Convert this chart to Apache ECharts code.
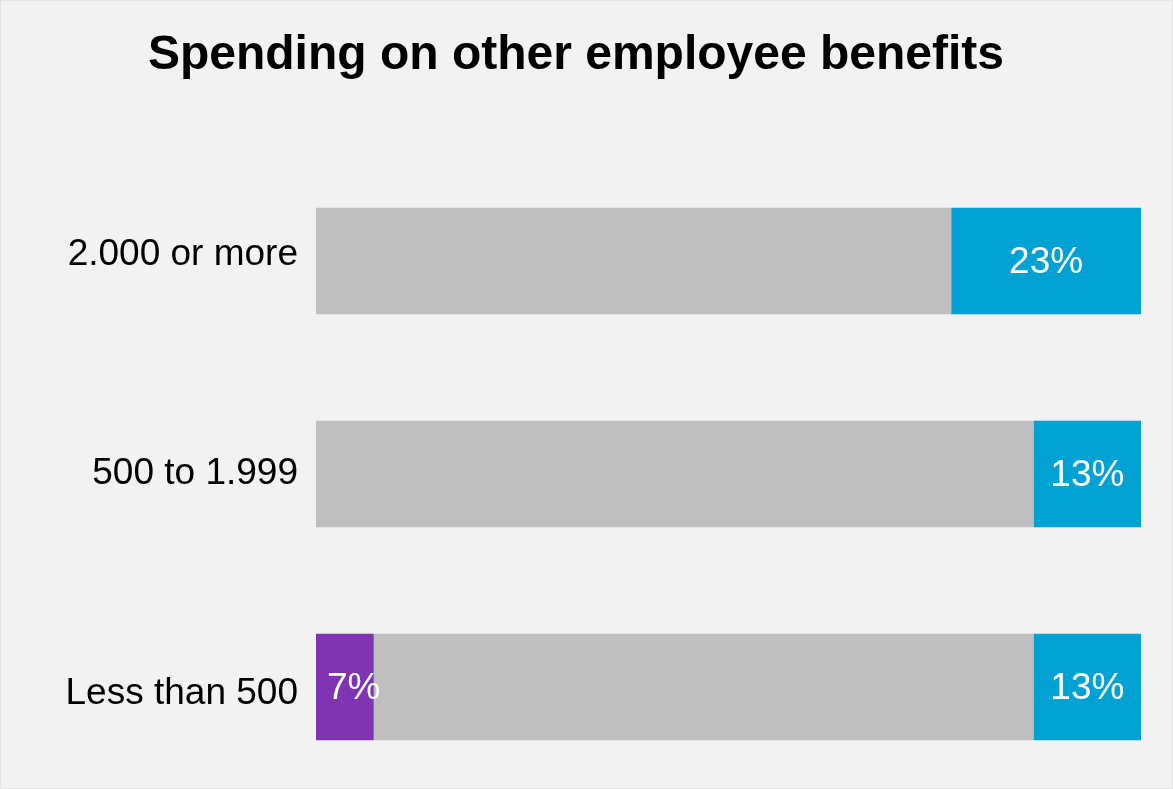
<!DOCTYPE html>
<html>
<head>
<meta charset="utf-8">
<script src="https://cdn.jsdelivr.net/npm/echarts@6/dist/echarts.min.js"></script>
<style>
  html, body { margin: 0; padding: 0; background: #f2f2f2; overflow: hidden; }
  #chart { position: absolute; left: 0; top: 0; width: 1173px; height: 830px; }
  #frame { position: absolute; left: 0; top: 0; width: 1173px; height: 789px;
           box-sizing: border-box; border: 1px solid #e4e4e4; pointer-events: none; }
</style>
</head>
<body>
<div id="chart"></div>
<div id="frame"></div>
<script>
// Company size groups, top to bottom
const categories = ['2.000 or more', '500 to 1.999', 'Less than 500'];
// Share of respondents (%) per spending direction
const decreaseValues = [0, 0, 7];
const sameValues = [77, 87, 80];
const increaseValues = [23, 13, 13];

const FONT = '"Liberation Sans", Arial, sans-serif';

const chart = echarts.init(document.getElementById('chart'), null, { renderer: 'canvas' });

const labelBase = {
  color: '#ffffff',
  fontFamily: FONT,
  fontSize: 37,
  offset: [0, 2],
  formatter: p => (p.value > 0 ? p.value + '%' : '')
};

// small vertical nudges for the category captions
const captionRich = {
  r0: { fontFamily: FONT, fontSize: 37, color: '#000000', padding: [0, 0, 12, 0] },
  r1: { fontFamily: FONT, fontSize: 37, color: '#000000', padding: [0, 0, 0, 0] },
  r2: { fontFamily: FONT, fontSize: 37, color: '#000000', padding: [13, 0, 0, 0] }
};

chart.setOption({
  backgroundColor: '#f2f2f2',
  animation: false,
  title: {
    text: 'Spending on other employee benefits',
    left: 571,
    textAlign: 'center',
    top: 27,
    textStyle: { fontFamily: FONT, fontSize: 48, fontWeight: 'bold', color: '#000000' }
  },
  grid: { left: 316, right: 32, top: 154.5, height: 639, containLabel: false },
  xAxis: {
    type: 'value',
    min: 0,
    max: 100,
    show: false
  },
  yAxis: {
    type: 'category',
    data: categories,
    inverse: true,
    axisLine: { show: false },
    axisTick: { show: false },
    axisLabel: {
      fontFamily: FONT, fontSize: 37, color: '#000000', margin: 18,
      formatter: (value, idx) => '{r' + idx + '|' + value + '}',
      rich: captionRich
    }
  },
  series: [
    {
      name: 'Decrease',
      type: 'bar',
      stack: 'total',
      barWidth: 106.5,
      data: decreaseValues,
      itemStyle: { color: '#7f35b2' },
      label: Object.assign({ show: true, position: 'insideLeft', distance: 11 }, labelBase),
      z: 3
    },
    {
      name: 'Same',
      type: 'bar',
      stack: 'total',
      barWidth: 106.5,
      data: sameValues,
      itemStyle: { color: '#bfbfbf' },
      label: { show: false },
      z: 2
    },
    {
      name: 'Increase',
      type: 'bar',
      stack: 'total',
      barWidth: 106.5,
      data: increaseValues,
      itemStyle: { color: '#00a2d3' },
      label: Object.assign({ show: true, position: 'inside' }, labelBase),
      z: 2
    }
  ]
});
</script>
</body>
</html>
